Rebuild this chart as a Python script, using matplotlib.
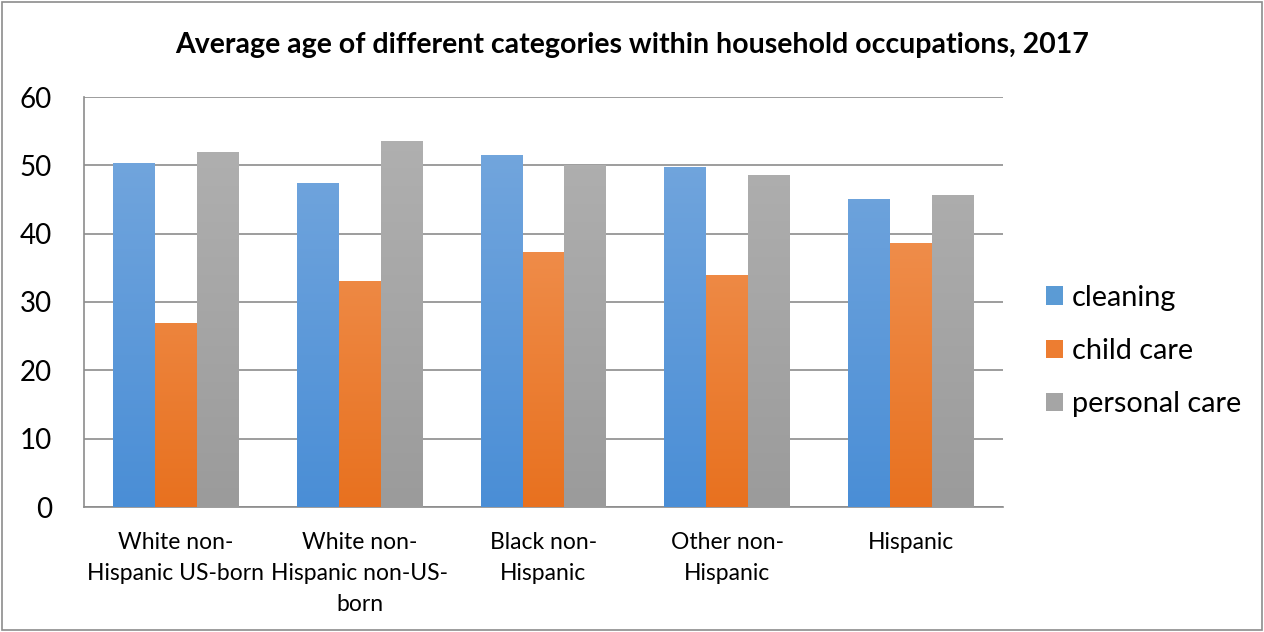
import matplotlib
matplotlib.use("Agg")
import matplotlib.pyplot as plt
import numpy as np
from matplotlib.patches import FancyBboxPatch, Rectangle
from matplotlib.colors import LinearSegmentedColormap

categories = ["White non-\nHispanic US-born", "White non-\nHispanic non-US-\nborn",
              "Black non-\nHispanic", "Other non-\nHispanic", "Hispanic"]
series_names = ["cleaning", "child care", "personal care"]
cleaning = [50.3, 47.4, 51.5, 49.8, 45.1]
child_care = [27.0, 33.1, 37.3, 34.0, 38.7]
personal_care = [52.0, 53.5, 50.0, 48.6, 45.7]
yticks = [0, 10, 20, 30, 40, 50, 60]

plt.rcParams['font.family'] = ['Lato', 'DejaVu Sans']

W, H = 1264, 632
fig = plt.figure(figsize=(W / 100, H / 100), dpi=100)
ax = fig.add_axes([84 / W, 1 - 507 / H, (1003 - 84) / W, (507 - 97) / H])

# outer border
fig.patches.append(FancyBboxPatch((2 / W, 2 / H), 1 - 4 / W, 1 - 4 / H,
                                  boxstyle="square,pad=0", transform=fig.transFigure,
                                  fill=False, edgecolor="#8C8C8C", linewidth=1.2))

grads = [("#78A9DE", "#4A8ED6"), ("#F39C62", "#E8711F"), ("#B2B2B2", "#9B9B9B")]
solid = ["#5B9BD5", "#ED7D31", "#A5A5A5"]
data = [cleaning, child_care, personal_care]
n = len(categories)
x = np.arange(n)
bw = 0.2285

for i, (vals, (ctop, cbot)) in enumerate(zip(data, grads)):
    cmap = LinearSegmentedColormap.from_list(f"g{i}", [cbot, ctop])
    bars = ax.bar(x + (i - 1) * bw, vals, width=bw, color=solid[i], zorder=3,
                  label=series_names[i], linewidth=0)
    for b in bars:
        b.set_facecolor("none")
        x0 = b.get_x()
        w, h = b.get_width(), b.get_height()
        im = ax.imshow(np.linspace(0, 1, 256).reshape(-1, 1), cmap=cmap, origin="lower",
                       extent=[x0, x0 + w, 0, 60], aspect="auto", zorder=3,
                       interpolation="bicubic")
        im.set_clip_path(Rectangle((x0, 0), w, h, transform=ax.transData))

ax.set_xlim(-0.5, n - 0.5)
ax.set_ylim(0, 60)
ax.set_yticks(yticks)
ax.set_yticklabels([str(t) for t in yticks], fontsize=20)
ax.set_xticks(x)
ax.set_xticklabels(categories, fontsize=16.5, linespacing=1.6, va="top")
ax.tick_params(axis="both", length=0)
ax.tick_params(axis="y", pad=23)
ax.tick_params(axis="x", pad=18)
ax.grid(axis="y", color="#8C8C8C", linewidth=1.2, zorder=0)
for s in ["top", "right"]:
    ax.spines[s].set_visible(False)
for s in ["left", "bottom"]:
    ax.spines[s].set_color("#8C8C8C")
    ax.spines[s].set_linewidth(1.2)

handles = [Rectangle((0, 0), 1, 1, facecolor=c, edgecolor="none") for c in solid]
leg = fig.legend(handles, series_names, loc="center left",
                 bbox_to_anchor=(1046 / W, 1 - 351 / H), frameon=False,
                 borderpad=0, borderaxespad=0,
                 fontsize=20.8, handlelength=0.6, handleheight=0.6,
                 handletextpad=0.3, labelspacing=0.94)

fig.text(0.5, 1 - 45 / H, "Average age of different categories within household occupations, 2017",
         ha="center", va="center", fontsize=20.5, fontweight="bold")

fig.savefig("out.png", dpi=100)
